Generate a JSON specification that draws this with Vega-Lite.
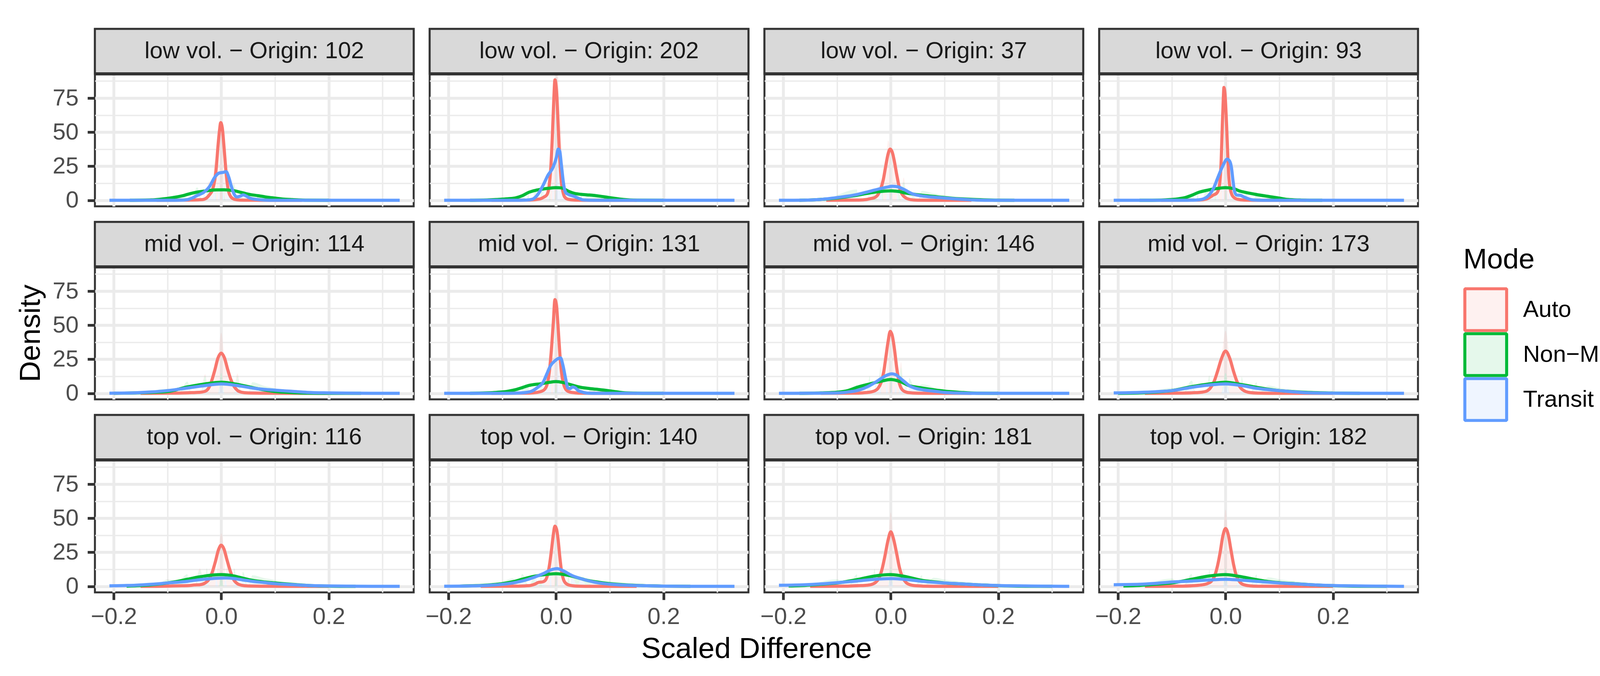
{
"$schema":"https://vega.github.io/schema/vega-lite/v6.json",
"background":"white",
"padding":{"left":38,"top":69,"right":0,"bottom":0},
"datasets":{"d":[
{"p":"102","m":"Auto","x":-0.12,"y":0},{"p":"102","m":"Auto","x":-0.06,"y":0.2},{"p":"102","m":"Auto","x":-0.035,"y":0.5},{"p":"102","m":"Auto","x":-0.028,"y":1.5},{"p":"102","m":"Auto","x":-0.022,"y":4},{"p":"102","m":"Auto","x":-0.016,"y":8},{"p":"102","m":"Auto","x":-0.012,"y":15},{"p":"102","m":"Auto","x":-0.009,"y":25},{"p":"102","m":"Auto","x":-0.006,"y":40},{"p":"102","m":"Auto","x":-0.003,"y":52},{"p":"102","m":"Auto","x":-0.001,"y":57},{"p":"102","m":"Auto","x":0.002,"y":53},{"p":"102","m":"Auto","x":0.005,"y":40},{"p":"102","m":"Auto","x":0.008,"y":25},{"p":"102","m":"Auto","x":0.011,"y":13},{"p":"102","m":"Auto","x":0.014,"y":6},{"p":"102","m":"Auto","x":0.018,"y":2.5},{"p":"102","m":"Auto","x":0.024,"y":0.8},{"p":"102","m":"Auto","x":0.035,"y":0.2},{"p":"102","m":"Auto","x":0.06,"y":0.1},{"p":"102","m":"Auto","x":0.1,"y":0},{"p":"102","m":"Auto","x":0.15,"y":0},
{"p":"102","m":"Non−Motorized","x":-0.17,"y":0},{"p":"102","m":"Non−Motorized","x":-0.13,"y":0.3},{"p":"102","m":"Non−Motorized","x":-0.116,"y":0.7},{"p":"102","m":"Non−Motorized","x":-0.09,"y":2},{"p":"102","m":"Non−Motorized","x":-0.07,"y":3.5},{"p":"102","m":"Non−Motorized","x":-0.058,"y":4.9},{"p":"102","m":"Non−Motorized","x":-0.045,"y":6},{"p":"102","m":"Non−Motorized","x":-0.027,"y":7},{"p":"102","m":"Non−Motorized","x":-0.01,"y":7.6},{"p":"102","m":"Non−Motorized","x":0.005,"y":7.7},{"p":"102","m":"Non−Motorized","x":0.024,"y":7},{"p":"102","m":"Non−Motorized","x":0.04,"y":5.5},{"p":"102","m":"Non−Motorized","x":0.053,"y":4.3},{"p":"102","m":"Non−Motorized","x":0.068,"y":3.4},{"p":"102","m":"Non−Motorized","x":0.082,"y":2.5},{"p":"102","m":"Non−Motorized","x":0.1,"y":1.6},{"p":"102","m":"Non−Motorized","x":0.115,"y":0.9},{"p":"102","m":"Non−Motorized","x":0.133,"y":0.5},{"p":"102","m":"Non−Motorized","x":0.16,"y":0.1},{"p":"102","m":"Non−Motorized","x":0.2,"y":0},
{"p":"102","m":"Transit","x":-0.208,"y":0},{"p":"102","m":"Transit","x":-0.1,"y":0},{"p":"102","m":"Transit","x":-0.07,"y":0.2},{"p":"102","m":"Transit","x":-0.055,"y":1.5},{"p":"102","m":"Transit","x":-0.045,"y":3.5},{"p":"102","m":"Transit","x":-0.032,"y":6},{"p":"102","m":"Transit","x":-0.022,"y":10},{"p":"102","m":"Transit","x":-0.012,"y":17},{"p":"102","m":"Transit","x":-0.004,"y":20},{"p":"102","m":"Transit","x":0.004,"y":20.5},{"p":"102","m":"Transit","x":0.009,"y":21},{"p":"102","m":"Transit","x":0.014,"y":17},{"p":"102","m":"Transit","x":0.019,"y":10},{"p":"102","m":"Transit","x":0.024,"y":4.5},{"p":"102","m":"Transit","x":0.029,"y":2.5},{"p":"102","m":"Transit","x":0.035,"y":3},{"p":"102","m":"Transit","x":0.041,"y":4},{"p":"102","m":"Transit","x":0.047,"y":3},{"p":"102","m":"Transit","x":0.054,"y":1.5},{"p":"102","m":"Transit","x":0.065,"y":0.7},{"p":"102","m":"Transit","x":0.08,"y":0.2},{"p":"102","m":"Transit","x":0.1,"y":0},{"p":"102","m":"Transit","x":0.332,"y":0},

{"p":"202","m":"Auto","x":-0.12,"y":0},{"p":"202","m":"Auto","x":-0.05,"y":0.2},{"p":"202","m":"Auto","x":-0.03,"y":1},{"p":"202","m":"Auto","x":-0.022,"y":2.5},{"p":"202","m":"Auto","x":-0.017,"y":4},{"p":"202","m":"Auto","x":-0.013,"y":10},{"p":"202","m":"Auto","x":-0.01,"y":22},{"p":"202","m":"Auto","x":-0.007,"y":45},{"p":"202","m":"Auto","x":-0.004,"y":75},{"p":"202","m":"Auto","x":-0.002,"y":88.4},{"p":"202","m":"Auto","x":0.001,"y":80},{"p":"202","m":"Auto","x":0.004,"y":55},{"p":"202","m":"Auto","x":0.007,"y":30},{"p":"202","m":"Auto","x":0.01,"y":13},{"p":"202","m":"Auto","x":0.013,"y":6},{"p":"202","m":"Auto","x":0.016,"y":2.5},{"p":"202","m":"Auto","x":0.022,"y":0.8},{"p":"202","m":"Auto","x":0.035,"y":0.2},{"p":"202","m":"Auto","x":0.07,"y":0},{"p":"202","m":"Auto","x":0.15,"y":0},
{"p":"202","m":"Non−Motorized","x":-0.16,"y":0},{"p":"202","m":"Non−Motorized","x":-0.125,"y":0.3},{"p":"202","m":"Non−Motorized","x":-0.109,"y":0.6},{"p":"202","m":"Non−Motorized","x":-0.09,"y":1.1},{"p":"202","m":"Non−Motorized","x":-0.075,"y":1.8},{"p":"202","m":"Non−Motorized","x":-0.062,"y":3.5},{"p":"202","m":"Non−Motorized","x":-0.051,"y":5.8},{"p":"202","m":"Non−Motorized","x":-0.038,"y":7.3},{"p":"202","m":"Non−Motorized","x":-0.027,"y":8.1},{"p":"202","m":"Non−Motorized","x":-0.012,"y":8.9},{"p":"202","m":"Non−Motorized","x":0,"y":9.3},{"p":"202","m":"Non−Motorized","x":0.01,"y":9.1},{"p":"202","m":"Non−Motorized","x":0.024,"y":6.5},{"p":"202","m":"Non−Motorized","x":0.035,"y":5},{"p":"202","m":"Non−Motorized","x":0.046,"y":4.4},{"p":"202","m":"Non−Motorized","x":0.058,"y":4},{"p":"202","m":"Non−Motorized","x":0.07,"y":3.6},{"p":"202","m":"Non−Motorized","x":0.082,"y":3},{"p":"202","m":"Non−Motorized","x":0.094,"y":2.3},{"p":"202","m":"Non−Motorized","x":0.106,"y":1.6},{"p":"202","m":"Non−Motorized","x":0.126,"y":0.6},{"p":"202","m":"Non−Motorized","x":0.15,"y":0.1},{"p":"202","m":"Non−Motorized","x":0.2,"y":0},
{"p":"202","m":"Transit","x":-0.208,"y":0},{"p":"202","m":"Transit","x":-0.08,"y":0},{"p":"202","m":"Transit","x":-0.055,"y":0.2},{"p":"202","m":"Transit","x":-0.044,"y":0.8},{"p":"202","m":"Transit","x":-0.034,"y":4.2},{"p":"202","m":"Transit","x":-0.024,"y":11},{"p":"202","m":"Transit","x":-0.015,"y":18.4},{"p":"202","m":"Transit","x":-0.005,"y":24.6},{"p":"202","m":"Transit","x":0.001,"y":32},{"p":"202","m":"Transit","x":0.004,"y":37.6},{"p":"202","m":"Transit","x":0.007,"y":36},{"p":"202","m":"Transit","x":0.01,"y":26},{"p":"202","m":"Transit","x":0.0145,"y":11},{"p":"202","m":"Transit","x":0.018,"y":5.7},{"p":"202","m":"Transit","x":0.022,"y":4.5},{"p":"202","m":"Transit","x":0.027,"y":3.7},{"p":"202","m":"Transit","x":0.033,"y":3},{"p":"202","m":"Transit","x":0.039,"y":2},{"p":"202","m":"Transit","x":0.045,"y":1},{"p":"202","m":"Transit","x":0.051,"y":0.3},{"p":"202","m":"Transit","x":0.07,"y":0},{"p":"202","m":"Transit","x":0.332,"y":0},

{"p":"37","m":"Auto","x":-0.12,"y":0},{"p":"37","m":"Auto","x":-0.06,"y":0.2},{"p":"37","m":"Auto","x":-0.045,"y":0.6},{"p":"37","m":"Auto","x":-0.038,"y":1.2},{"p":"37","m":"Auto","x":-0.03,"y":2},{"p":"37","m":"Auto","x":-0.024,"y":4},{"p":"37","m":"Auto","x":-0.019,"y":8},{"p":"37","m":"Auto","x":-0.014,"y":15},{"p":"37","m":"Auto","x":-0.009,"y":26},{"p":"37","m":"Auto","x":-0.005,"y":34},{"p":"37","m":"Auto","x":-0.001,"y":37.6},{"p":"37","m":"Auto","x":0.003,"y":35},{"p":"37","m":"Auto","x":0.007,"y":28},{"p":"37","m":"Auto","x":0.011,"y":19},{"p":"37","m":"Auto","x":0.015,"y":11},{"p":"37","m":"Auto","x":0.019,"y":6},{"p":"37","m":"Auto","x":0.024,"y":3},{"p":"37","m":"Auto","x":0.03,"y":1.3},{"p":"37","m":"Auto","x":0.037,"y":0.5},{"p":"37","m":"Auto","x":0.05,"y":0.1},{"p":"37","m":"Auto","x":0.08,"y":0},{"p":"37","m":"Auto","x":0.15,"y":0},
{"p":"37","m":"Non−Motorized","x":-0.17,"y":0},{"p":"37","m":"Non−Motorized","x":-0.135,"y":0.5},{"p":"37","m":"Non−Motorized","x":-0.1,"y":1.7},{"p":"37","m":"Non−Motorized","x":-0.063,"y":3.7},{"p":"37","m":"Non−Motorized","x":-0.03,"y":6},{"p":"37","m":"Non−Motorized","x":-0.015,"y":6.6},{"p":"37","m":"Non−Motorized","x":0,"y":6.9},{"p":"37","m":"Non−Motorized","x":0.015,"y":6.5},{"p":"37","m":"Non−Motorized","x":0.024,"y":5.6},{"p":"37","m":"Non−Motorized","x":0.04,"y":4.6},{"p":"37","m":"Non−Motorized","x":0.058,"y":3.7},{"p":"37","m":"Non−Motorized","x":0.08,"y":2.8},{"p":"37","m":"Non−Motorized","x":0.1,"y":2},{"p":"37","m":"Non−Motorized","x":0.13,"y":1.1},{"p":"37","m":"Non−Motorized","x":0.16,"y":0.5},{"p":"37","m":"Non−Motorized","x":0.2,"y":0.1},{"p":"37","m":"Non−Motorized","x":0.23,"y":0},
{"p":"37","m":"Transit","x":-0.208,"y":0},{"p":"37","m":"Transit","x":-0.16,"y":0.1},{"p":"37","m":"Transit","x":-0.135,"y":0.5},{"p":"37","m":"Transit","x":-0.1,"y":2},{"p":"37","m":"Transit","x":-0.063,"y":4.2},{"p":"37","m":"Transit","x":-0.039,"y":6.6},{"p":"37","m":"Transit","x":-0.019,"y":8.6},{"p":"37","m":"Transit","x":-0.005,"y":9.8},{"p":"37","m":"Transit","x":0.002,"y":10.3},{"p":"37","m":"Transit","x":0.012,"y":10},{"p":"37","m":"Transit","x":0.024,"y":8.1},{"p":"37","m":"Transit","x":0.039,"y":4.9},{"p":"37","m":"Transit","x":0.058,"y":3.2},{"p":"37","m":"Transit","x":0.08,"y":2.3},{"p":"37","m":"Transit","x":0.1,"y":1.7},{"p":"37","m":"Transit","x":0.13,"y":0.8},{"p":"37","m":"Transit","x":0.16,"y":0.2},{"p":"37","m":"Transit","x":0.2,"y":0},{"p":"37","m":"Transit","x":0.332,"y":0},

{"p":"93","m":"Auto","x":-0.12,"y":0},{"p":"93","m":"Auto","x":-0.05,"y":0.2},{"p":"93","m":"Auto","x":-0.035,"y":1},{"p":"93","m":"Auto","x":-0.028,"y":2.5},{"p":"93","m":"Auto","x":-0.022,"y":4},{"p":"93","m":"Auto","x":-0.017,"y":5},{"p":"93","m":"Auto","x":-0.013,"y":8},{"p":"93","m":"Auto","x":-0.01,"y":16},{"p":"93","m":"Auto","x":-0.008,"y":30},{"p":"93","m":"Auto","x":-0.006,"y":55},{"p":"93","m":"Auto","x":-0.004,"y":76},{"p":"93","m":"Auto","x":-0.003,"y":82.8},{"p":"93","m":"Auto","x":-0.001,"y":78},{"p":"93","m":"Auto","x":0.002,"y":55},{"p":"93","m":"Auto","x":0.004,"y":35},{"p":"93","m":"Auto","x":0.006,"y":18},{"p":"93","m":"Auto","x":0.009,"y":8},{"p":"93","m":"Auto","x":0.012,"y":4},{"p":"93","m":"Auto","x":0.016,"y":2},{"p":"93","m":"Auto","x":0.022,"y":0.8},{"p":"93","m":"Auto","x":0.035,"y":0.2},{"p":"93","m":"Auto","x":0.07,"y":0},{"p":"93","m":"Auto","x":0.15,"y":0},
{"p":"93","m":"Non−Motorized","x":-0.16,"y":0},{"p":"93","m":"Non−Motorized","x":-0.12,"y":0.2},{"p":"93","m":"Non−Motorized","x":-0.104,"y":0.5},{"p":"93","m":"Non−Motorized","x":-0.09,"y":1},{"p":"93","m":"Non−Motorized","x":-0.075,"y":2},{"p":"93","m":"Non−Motorized","x":-0.062,"y":3.8},{"p":"93","m":"Non−Motorized","x":-0.051,"y":5.7},{"p":"93","m":"Non−Motorized","x":-0.035,"y":7.3},{"p":"93","m":"Non−Motorized","x":-0.02,"y":8.4},{"p":"93","m":"Non−Motorized","x":0,"y":9.3},{"p":"93","m":"Non−Motorized","x":0.015,"y":8.6},{"p":"93","m":"Non−Motorized","x":0.025,"y":7},{"p":"93","m":"Non−Motorized","x":0.038,"y":5.7},{"p":"93","m":"Non−Motorized","x":0.058,"y":4.2},{"p":"93","m":"Non−Motorized","x":0.082,"y":2.7},{"p":"93","m":"Non−Motorized","x":0.1,"y":1.6},{"p":"93","m":"Non−Motorized","x":0.114,"y":0.7},{"p":"93","m":"Non−Motorized","x":0.14,"y":0.2},{"p":"93","m":"Non−Motorized","x":0.18,"y":0},
{"p":"93","m":"Transit","x":-0.208,"y":0},{"p":"93","m":"Transit","x":-0.08,"y":0},{"p":"93","m":"Transit","x":-0.055,"y":0.2},{"p":"93","m":"Transit","x":-0.044,"y":0.7},{"p":"93","m":"Transit","x":-0.031,"y":3.7},{"p":"93","m":"Transit","x":-0.022,"y":9},{"p":"93","m":"Transit","x":-0.015,"y":16},{"p":"93","m":"Transit","x":-0.005,"y":25.3},{"p":"93","m":"Transit","x":0.003,"y":30.2},{"p":"93","m":"Transit","x":0.008,"y":28.5},{"p":"93","m":"Transit","x":0.011,"y":24},{"p":"93","m":"Transit","x":0.014,"y":14},{"p":"93","m":"Transit","x":0.017,"y":6.1},{"p":"93","m":"Transit","x":0.021,"y":3.8},{"p":"93","m":"Transit","x":0.027,"y":3.7},{"p":"93","m":"Transit","x":0.034,"y":2.5},{"p":"93","m":"Transit","x":0.042,"y":1.2},{"p":"93","m":"Transit","x":0.051,"y":0.3},{"p":"93","m":"Transit","x":0.07,"y":0},{"p":"93","m":"Transit","x":0.332,"y":0},

{"p":"114","m":"Auto","x":-0.15,"y":0},{"p":"114","m":"Auto","x":-0.08,"y":0.2},{"p":"114","m":"Auto","x":-0.055,"y":0.5},{"p":"114","m":"Auto","x":-0.039,"y":0.8},{"p":"114","m":"Auto","x":-0.03,"y":1.5},{"p":"114","m":"Auto","x":-0.024,"y":3.5},{"p":"114","m":"Auto","x":-0.018,"y":9},{"p":"114","m":"Auto","x":-0.012,"y":17},{"p":"114","m":"Auto","x":-0.006,"y":26},{"p":"114","m":"Auto","x":0,"y":29.5},{"p":"114","m":"Auto","x":0.006,"y":26},{"p":"114","m":"Auto","x":0.012,"y":17.5},{"p":"114","m":"Auto","x":0.018,"y":10},{"p":"114","m":"Auto","x":0.024,"y":5},{"p":"114","m":"Auto","x":0.03,"y":2.2},{"p":"114","m":"Auto","x":0.038,"y":0.8},{"p":"114","m":"Auto","x":0.05,"y":0.3},{"p":"114","m":"Auto","x":0.08,"y":0.1},{"p":"114","m":"Auto","x":0.12,"y":0},{"p":"114","m":"Auto","x":0.2,"y":0},
{"p":"114","m":"Non−Motorized","x":-0.2,"y":0},{"p":"114","m":"Non−Motorized","x":-0.16,"y":0.3},{"p":"114","m":"Non−Motorized","x":-0.13,"y":0.7},{"p":"114","m":"Non−Motorized","x":-0.1,"y":1.3},{"p":"114","m":"Non−Motorized","x":-0.063,"y":4.7},{"p":"114","m":"Non−Motorized","x":-0.03,"y":6.9},{"p":"114","m":"Non−Motorized","x":0,"y":8.1},{"p":"114","m":"Non−Motorized","x":0.03,"y":6.6},{"p":"114","m":"Non−Motorized","x":0.058,"y":4.2},{"p":"114","m":"Non−Motorized","x":0.08,"y":2.5},{"p":"114","m":"Non−Motorized","x":0.1,"y":1.3},{"p":"114","m":"Non−Motorized","x":0.13,"y":0.6},{"p":"114","m":"Non−Motorized","x":0.16,"y":0.2},{"p":"114","m":"Non−Motorized","x":0.2,"y":0},{"p":"114","m":"Non−Motorized","x":0.26,"y":0},
{"p":"114","m":"Transit","x":-0.208,"y":0.1},{"p":"114","m":"Transit","x":-0.16,"y":0.4},{"p":"114","m":"Transit","x":-0.13,"y":1},{"p":"114","m":"Transit","x":-0.1,"y":2},{"p":"114","m":"Transit","x":-0.063,"y":3.9},{"p":"114","m":"Transit","x":-0.03,"y":5.7},{"p":"114","m":"Transit","x":0,"y":6.9},{"p":"114","m":"Transit","x":0.03,"y":5.7},{"p":"114","m":"Transit","x":0.058,"y":3.9},{"p":"114","m":"Transit","x":0.08,"y":2.9},{"p":"114","m":"Transit","x":0.1,"y":2.3},{"p":"114","m":"Transit","x":0.13,"y":1.5},{"p":"114","m":"Transit","x":0.16,"y":0.7},{"p":"114","m":"Transit","x":0.2,"y":0.3},{"p":"114","m":"Transit","x":0.25,"y":0.1},{"p":"114","m":"Transit","x":0.332,"y":0},

{"p":"131","m":"Auto","x":-0.12,"y":0},{"p":"131","m":"Auto","x":-0.05,"y":0.2},{"p":"131","m":"Auto","x":-0.035,"y":0.7},{"p":"131","m":"Auto","x":-0.027,"y":1.5},{"p":"131","m":"Auto","x":-0.021,"y":3},{"p":"131","m":"Auto","x":-0.017,"y":6},{"p":"131","m":"Auto","x":-0.013,"y":14},{"p":"131","m":"Auto","x":-0.009,"y":30},{"p":"131","m":"Auto","x":-0.005,"y":52},{"p":"131","m":"Auto","x":-0.002,"y":68.8},{"p":"131","m":"Auto","x":0.001,"y":64},{"p":"131","m":"Auto","x":0.004,"y":48},{"p":"131","m":"Auto","x":0.007,"y":30},{"p":"131","m":"Auto","x":0.01,"y":16},{"p":"131","m":"Auto","x":0.014,"y":7},{"p":"131","m":"Auto","x":0.018,"y":3},{"p":"131","m":"Auto","x":0.024,"y":1.2},{"p":"131","m":"Auto","x":0.035,"y":0.4},{"p":"131","m":"Auto","x":0.05,"y":0.1},{"p":"131","m":"Auto","x":0.09,"y":0},{"p":"131","m":"Auto","x":0.15,"y":0},
{"p":"131","m":"Non−Motorized","x":-0.16,"y":0},{"p":"131","m":"Non−Motorized","x":-0.13,"y":0.3},{"p":"131","m":"Non−Motorized","x":-0.111,"y":0.7},{"p":"131","m":"Non−Motorized","x":-0.09,"y":1.5},{"p":"131","m":"Non−Motorized","x":-0.075,"y":2.7},{"p":"131","m":"Non−Motorized","x":-0.062,"y":4.3},{"p":"131","m":"Non−Motorized","x":-0.051,"y":5.7},{"p":"131","m":"Non−Motorized","x":-0.027,"y":7.1},{"p":"131","m":"Non−Motorized","x":-0.01,"y":8.2},{"p":"131","m":"Non−Motorized","x":0,"y":8.6},{"p":"131","m":"Non−Motorized","x":0.012,"y":8},{"p":"131","m":"Non−Motorized","x":0.025,"y":6.6},{"p":"131","m":"Non−Motorized","x":0.046,"y":4.4},{"p":"131","m":"Non−Motorized","x":0.065,"y":3.4},{"p":"131","m":"Non−Motorized","x":0.082,"y":2.7},{"p":"131","m":"Non−Motorized","x":0.106,"y":1.5},{"p":"131","m":"Non−Motorized","x":0.13,"y":0.3},{"p":"131","m":"Non−Motorized","x":0.16,"y":0.05},{"p":"131","m":"Non−Motorized","x":0.2,"y":0},
{"p":"131","m":"Transit","x":-0.208,"y":0},{"p":"131","m":"Transit","x":-0.09,"y":0},{"p":"131","m":"Transit","x":-0.065,"y":0.3},{"p":"131","m":"Transit","x":-0.048,"y":1.2},{"p":"131","m":"Transit","x":-0.034,"y":4.4},{"p":"131","m":"Transit","x":-0.024,"y":8.1},{"p":"131","m":"Transit","x":-0.017,"y":14.3},{"p":"131","m":"Transit","x":-0.01,"y":20.4},{"p":"131","m":"Transit","x":-0.003,"y":23.5},{"p":"131","m":"Transit","x":0.004,"y":25.5},{"p":"131","m":"Transit","x":0.0085,"y":26},{"p":"131","m":"Transit","x":0.013,"y":20.4},{"p":"131","m":"Transit","x":0.018,"y":10.6},{"p":"131","m":"Transit","x":0.022,"y":4},{"p":"131","m":"Transit","x":0.026,"y":3.5},{"p":"131","m":"Transit","x":0.031,"y":4.7},{"p":"131","m":"Transit","x":0.036,"y":4},{"p":"131","m":"Transit","x":0.041,"y":2.2},{"p":"131","m":"Transit","x":0.05,"y":0.8},{"p":"131","m":"Transit","x":0.058,"y":0.2},{"p":"131","m":"Transit","x":0.08,"y":0},{"p":"131","m":"Transit","x":0.332,"y":0},

{"p":"146","m":"Auto","x":-0.13,"y":0},{"p":"146","m":"Auto","x":-0.06,"y":0.2},{"p":"146","m":"Auto","x":-0.045,"y":0.6},{"p":"146","m":"Auto","x":-0.037,"y":1},{"p":"146","m":"Auto","x":-0.03,"y":1.8},{"p":"146","m":"Auto","x":-0.024,"y":3.5},{"p":"146","m":"Auto","x":-0.018,"y":8},{"p":"146","m":"Auto","x":-0.013,"y":16},{"p":"146","m":"Auto","x":-0.009,"y":27},{"p":"146","m":"Auto","x":-0.005,"y":38},{"p":"146","m":"Auto","x":-0.001,"y":45.5},{"p":"146","m":"Auto","x":0.003,"y":42},{"p":"146","m":"Auto","x":0.007,"y":32},{"p":"146","m":"Auto","x":0.011,"y":19},{"p":"146","m":"Auto","x":0.015,"y":9},{"p":"146","m":"Auto","x":0.019,"y":4},{"p":"146","m":"Auto","x":0.025,"y":1.5},{"p":"146","m":"Auto","x":0.033,"y":0.5},{"p":"146","m":"Auto","x":0.05,"y":0.1},{"p":"146","m":"Auto","x":0.09,"y":0},{"p":"146","m":"Auto","x":0.15,"y":0},
{"p":"146","m":"Non−Motorized","x":-0.17,"y":0},{"p":"146","m":"Non−Motorized","x":-0.13,"y":0.3},{"p":"146","m":"Non−Motorized","x":-0.1,"y":0.8},{"p":"146","m":"Non−Motorized","x":-0.08,"y":2},{"p":"146","m":"Non−Motorized","x":-0.063,"y":4.4},{"p":"146","m":"Non−Motorized","x":-0.039,"y":6.9},{"p":"146","m":"Non−Motorized","x":-0.019,"y":8.8},{"p":"146","m":"Non−Motorized","x":0,"y":10.1},{"p":"146","m":"Non−Motorized","x":0.019,"y":8.4},{"p":"146","m":"Non−Motorized","x":0.034,"y":5.6},{"p":"146","m":"Non−Motorized","x":0.05,"y":4.4},{"p":"146","m":"Non−Motorized","x":0.058,"y":3.9},{"p":"146","m":"Non−Motorized","x":0.08,"y":2.6},{"p":"146","m":"Non−Motorized","x":0.1,"y":1.6},{"p":"146","m":"Non−Motorized","x":0.13,"y":0.7},{"p":"146","m":"Non−Motorized","x":0.16,"y":0.1},{"p":"146","m":"Non−Motorized","x":0.2,"y":0},
{"p":"146","m":"Transit","x":-0.208,"y":0},{"p":"146","m":"Transit","x":-0.15,"y":0.1},{"p":"146","m":"Transit","x":-0.1,"y":0.3},{"p":"146","m":"Transit","x":-0.075,"y":1.2},{"p":"146","m":"Transit","x":-0.063,"y":2},{"p":"146","m":"Transit","x":-0.05,"y":3.7},{"p":"146","m":"Transit","x":-0.039,"y":5.7},{"p":"146","m":"Transit","x":-0.029,"y":8},{"p":"146","m":"Transit","x":-0.019,"y":10.6},{"p":"146","m":"Transit","x":-0.008,"y":13.2},{"p":"146","m":"Transit","x":0.002,"y":14.3},{"p":"146","m":"Transit","x":0.01,"y":13.5},{"p":"146","m":"Transit","x":0.019,"y":10.6},{"p":"146","m":"Transit","x":0.027,"y":8},{"p":"146","m":"Transit","x":0.034,"y":5.7},{"p":"146","m":"Transit","x":0.045,"y":3.8},{"p":"146","m":"Transit","x":0.058,"y":2.7},{"p":"146","m":"Transit","x":0.08,"y":1.6},{"p":"146","m":"Transit","x":0.1,"y":0.7},{"p":"146","m":"Transit","x":0.13,"y":0.2},{"p":"146","m":"Transit","x":0.16,"y":0},{"p":"146","m":"Transit","x":0.332,"y":0},

{"p":"173","m":"Auto","x":-0.15,"y":0},{"p":"173","m":"Auto","x":-0.08,"y":0.2},{"p":"173","m":"Auto","x":-0.055,"y":0.5},{"p":"173","m":"Auto","x":-0.045,"y":0.8},{"p":"173","m":"Auto","x":-0.036,"y":1.5},{"p":"173","m":"Auto","x":-0.028,"y":4},{"p":"173","m":"Auto","x":-0.021,"y":9},{"p":"173","m":"Auto","x":-0.015,"y":16},{"p":"173","m":"Auto","x":-0.008,"y":25},{"p":"173","m":"Auto","x":0,"y":31},{"p":"173","m":"Auto","x":0.008,"y":25.5},{"p":"173","m":"Auto","x":0.015,"y":16},{"p":"173","m":"Auto","x":0.021,"y":9},{"p":"173","m":"Auto","x":0.028,"y":4},{"p":"173","m":"Auto","x":0.036,"y":1.6},{"p":"173","m":"Auto","x":0.045,"y":0.6},{"p":"173","m":"Auto","x":0.06,"y":0.2},{"p":"173","m":"Auto","x":0.1,"y":0},{"p":"173","m":"Auto","x":0.2,"y":0},
{"p":"173","m":"Non−Motorized","x":-0.2,"y":0},{"p":"173","m":"Non−Motorized","x":-0.16,"y":0.3},{"p":"173","m":"Non−Motorized","x":-0.13,"y":0.9},{"p":"173","m":"Non−Motorized","x":-0.1,"y":2},{"p":"173","m":"Non−Motorized","x":-0.063,"y":4.9},{"p":"173","m":"Non−Motorized","x":-0.03,"y":6.9},{"p":"173","m":"Non−Motorized","x":0,"y":8.1},{"p":"173","m":"Non−Motorized","x":0.03,"y":6.4},{"p":"173","m":"Non−Motorized","x":0.058,"y":4.4},{"p":"173","m":"Non−Motorized","x":0.08,"y":3},{"p":"173","m":"Non−Motorized","x":0.1,"y":2},{"p":"173","m":"Non−Motorized","x":0.13,"y":1.2},{"p":"173","m":"Non−Motorized","x":0.16,"y":0.6},{"p":"173","m":"Non−Motorized","x":0.2,"y":0.2},{"p":"173","m":"Non−Motorized","x":0.25,"y":0},
{"p":"173","m":"Transit","x":-0.208,"y":0.3},{"p":"173","m":"Transit","x":-0.16,"y":0.7},{"p":"173","m":"Transit","x":-0.13,"y":1.2},{"p":"173","m":"Transit","x":-0.1,"y":2},{"p":"173","m":"Transit","x":-0.063,"y":4.4},{"p":"173","m":"Transit","x":-0.03,"y":6.1},{"p":"173","m":"Transit","x":0,"y":6.9},{"p":"173","m":"Transit","x":0.03,"y":5.7},{"p":"173","m":"Transit","x":0.058,"y":3.7},{"p":"173","m":"Transit","x":0.08,"y":2.7},{"p":"173","m":"Transit","x":0.1,"y":2},{"p":"173","m":"Transit","x":0.13,"y":1},{"p":"173","m":"Transit","x":0.16,"y":0.3},{"p":"173","m":"Transit","x":0.2,"y":0.1},{"p":"173","m":"Transit","x":0.332,"y":0},

{"p":"116","m":"Auto","x":-0.15,"y":0},{"p":"116","m":"Auto","x":-0.1,"y":0.2},{"p":"116","m":"Auto","x":-0.08,"y":0.4},{"p":"116","m":"Auto","x":-0.06,"y":0.6},{"p":"116","m":"Auto","x":-0.05,"y":1},{"p":"116","m":"Auto","x":-0.04,"y":1.2},{"p":"116","m":"Auto","x":-0.03,"y":2.5},{"p":"116","m":"Auto","x":-0.023,"y":5},{"p":"116","m":"Auto","x":-0.017,"y":10},{"p":"116","m":"Auto","x":-0.011,"y":18},{"p":"116","m":"Auto","x":-0.005,"y":27},{"p":"116","m":"Auto","x":0,"y":30.2},{"p":"116","m":"Auto","x":0.005,"y":27.5},{"p":"116","m":"Auto","x":0.011,"y":19},{"p":"116","m":"Auto","x":0.017,"y":11},{"p":"116","m":"Auto","x":0.023,"y":5},{"p":"116","m":"Auto","x":0.03,"y":2},{"p":"116","m":"Auto","x":0.038,"y":0.8},{"p":"116","m":"Auto","x":0.05,"y":0.3},{"p":"116","m":"Auto","x":0.08,"y":0.1},{"p":"116","m":"Auto","x":0.12,"y":0},{"p":"116","m":"Auto","x":0.2,"y":0},
{"p":"116","m":"Non−Motorized","x":-0.176,"y":0.2},{"p":"116","m":"Non−Motorized","x":-0.15,"y":0.6},{"p":"116","m":"Non−Motorized","x":-0.12,"y":1.5},{"p":"116","m":"Non−Motorized","x":-0.1,"y":2.5},{"p":"116","m":"Non−Motorized","x":-0.08,"y":3.8},{"p":"116","m":"Non−Motorized","x":-0.063,"y":5.2},{"p":"116","m":"Non−Motorized","x":-0.04,"y":7},{"p":"116","m":"Non−Motorized","x":-0.027,"y":7.8},{"p":"116","m":"Non−Motorized","x":0,"y":8.6},{"p":"116","m":"Non−Motorized","x":0.024,"y":7.6},{"p":"116","m":"Non−Motorized","x":0.04,"y":6},{"p":"116","m":"Non−Motorized","x":0.058,"y":4.4},{"p":"116","m":"Non−Motorized","x":0.08,"y":3.2},{"p":"116","m":"Non−Motorized","x":0.1,"y":2.5},{"p":"116","m":"Non−Motorized","x":0.13,"y":1.5},{"p":"116","m":"Non−Motorized","x":0.16,"y":0.7},{"p":"116","m":"Non−Motorized","x":0.2,"y":0.2},{"p":"116","m":"Non−Motorized","x":0.25,"y":0},
{"p":"116","m":"Transit","x":-0.208,"y":0.4},{"p":"116","m":"Transit","x":-0.18,"y":0.6},{"p":"116","m":"Transit","x":-0.16,"y":0.8},{"p":"116","m":"Transit","x":-0.13,"y":1.5},{"p":"116","m":"Transit","x":-0.1,"y":2.5},{"p":"116","m":"Transit","x":-0.063,"y":3.7},{"p":"116","m":"Transit","x":-0.04,"y":4.9},{"p":"116","m":"Transit","x":-0.027,"y":5.4},{"p":"116","m":"Transit","x":-0.01,"y":5.9},{"p":"116","m":"Transit","x":0.008,"y":6.1},{"p":"116","m":"Transit","x":0.024,"y":5.7},{"p":"116","m":"Transit","x":0.04,"y":4.7},{"p":"116","m":"Transit","x":0.058,"y":3.7},{"p":"116","m":"Transit","x":0.08,"y":2.8},{"p":"116","m":"Transit","x":0.1,"y":2},{"p":"116","m":"Transit","x":0.13,"y":1.3},{"p":"116","m":"Transit","x":0.16,"y":0.7},{"p":"116","m":"Transit","x":0.2,"y":0.3},{"p":"116","m":"Transit","x":0.25,"y":0.1},{"p":"116","m":"Transit","x":0.332,"y":0},

{"p":"140","m":"Auto","x":-0.14,"y":0},{"p":"140","m":"Auto","x":-0.07,"y":0.2},{"p":"140","m":"Auto","x":-0.05,"y":0.5},{"p":"140","m":"Auto","x":-0.04,"y":1.5},{"p":"140","m":"Auto","x":-0.032,"y":3},{"p":"140","m":"Auto","x":-0.026,"y":3.2},{"p":"140","m":"Auto","x":-0.021,"y":4},{"p":"140","m":"Auto","x":-0.016,"y":8},{"p":"140","m":"Auto","x":-0.012,"y":16},{"p":"140","m":"Auto","x":-0.008,"y":28},{"p":"140","m":"Auto","x":-0.005,"y":38},{"p":"140","m":"Auto","x":-0.002,"y":44.2},{"p":"140","m":"Auto","x":0.001,"y":42},{"p":"140","m":"Auto","x":0.004,"y":34},{"p":"140","m":"Auto","x":0.007,"y":22},{"p":"140","m":"Auto","x":0.01,"y":12},{"p":"140","m":"Auto","x":0.014,"y":5},{"p":"140","m":"Auto","x":0.019,"y":2},{"p":"140","m":"Auto","x":0.026,"y":0.8},{"p":"140","m":"Auto","x":0.04,"y":0.2},{"p":"140","m":"Auto","x":0.07,"y":0},{"p":"140","m":"Auto","x":0.15,"y":0},
{"p":"140","m":"Non−Motorized","x":-0.18,"y":0.2},{"p":"140","m":"Non−Motorized","x":-0.15,"y":0.5},{"p":"140","m":"Non−Motorized","x":-0.12,"y":1.2},{"p":"140","m":"Non−Motorized","x":-0.1,"y":2},{"p":"140","m":"Non−Motorized","x":-0.08,"y":3.4},{"p":"140","m":"Non−Motorized","x":-0.063,"y":5.2},{"p":"140","m":"Non−Motorized","x":-0.04,"y":7.4},{"p":"140","m":"Non−Motorized","x":-0.027,"y":8.3},{"p":"140","m":"Non−Motorized","x":0,"y":9.3},{"p":"140","m":"Non−Motorized","x":0.024,"y":8},{"p":"140","m":"Non−Motorized","x":0.04,"y":6.4},{"p":"140","m":"Non−Motorized","x":0.058,"y":4.4},{"p":"140","m":"Non−Motorized","x":0.08,"y":3},{"p":"140","m":"Non−Motorized","x":0.1,"y":2},{"p":"140","m":"Non−Motorized","x":0.13,"y":1.1},{"p":"140","m":"Non−Motorized","x":0.16,"y":0.6},{"p":"140","m":"Non−Motorized","x":0.2,"y":0.2},{"p":"140","m":"Non−Motorized","x":0.25,"y":0},
{"p":"140","m":"Transit","x":-0.208,"y":0.1},{"p":"140","m":"Transit","x":-0.16,"y":0.3},{"p":"140","m":"Transit","x":-0.12,"y":0.9},{"p":"140","m":"Transit","x":-0.1,"y":1.5},{"p":"140","m":"Transit","x":-0.08,"y":2.5},{"p":"140","m":"Transit","x":-0.063,"y":3.9},{"p":"140","m":"Transit","x":-0.039,"y":6.9},{"p":"140","m":"Transit","x":-0.024,"y":9.3},{"p":"140","m":"Transit","x":-0.01,"y":12},{"p":"140","m":"Transit","x":0.002,"y":13},{"p":"140","m":"Transit","x":0.013,"y":11.5},{"p":"140","m":"Transit","x":0.029,"y":8.1},{"p":"140","m":"Transit","x":0.046,"y":5.7},{"p":"140","m":"Transit","x":0.07,"y":3.2},{"p":"140","m":"Transit","x":0.1,"y":1.6},{"p":"140","m":"Transit","x":0.13,"y":0.9},{"p":"140","m":"Transit","x":0.16,"y":0.5},{"p":"140","m":"Transit","x":0.2,"y":0.2},{"p":"140","m":"Transit","x":0.25,"y":0.05},{"p":"140","m":"Transit","x":0.332,"y":0},

{"p":"181","m":"Auto","x":-0.15,"y":0},{"p":"181","m":"Auto","x":-0.08,"y":0.2},{"p":"181","m":"Auto","x":-0.06,"y":0.5},{"p":"181","m":"Auto","x":-0.045,"y":0.8},{"p":"181","m":"Auto","x":-0.035,"y":1.5},{"p":"181","m":"Auto","x":-0.028,"y":3},{"p":"181","m":"Auto","x":-0.022,"y":6},{"p":"181","m":"Auto","x":-0.016,"y":13},{"p":"181","m":"Auto","x":-0.011,"y":22},{"p":"181","m":"Auto","x":-0.005,"y":34},{"p":"181","m":"Auto","x":0,"y":40},{"p":"181","m":"Auto","x":0.005,"y":35},{"p":"181","m":"Auto","x":0.011,"y":24},{"p":"181","m":"Auto","x":0.016,"y":14},{"p":"181","m":"Auto","x":0.022,"y":6.5},{"p":"181","m":"Auto","x":0.028,"y":3},{"p":"181","m":"Auto","x":0.035,"y":1.3},{"p":"181","m":"Auto","x":0.045,"y":0.5},{"p":"181","m":"Auto","x":0.06,"y":0.2},{"p":"181","m":"Auto","x":0.1,"y":0},{"p":"181","m":"Auto","x":0.2,"y":0},
{"p":"181","m":"Non−Motorized","x":-0.19,"y":0.3},{"p":"181","m":"Non−Motorized","x":-0.16,"y":0.7},{"p":"181","m":"Non−Motorized","x":-0.13,"y":1.5},{"p":"181","m":"Non−Motorized","x":-0.1,"y":2.5},{"p":"181","m":"Non−Motorized","x":-0.063,"y":4.9},{"p":"181","m":"Non−Motorized","x":-0.03,"y":7.6},{"p":"181","m":"Non−Motorized","x":0,"y":8.6},{"p":"181","m":"Non−Motorized","x":0.024,"y":7.4},{"p":"181","m":"Non−Motorized","x":0.058,"y":4.4},{"p":"181","m":"Non−Motorized","x":0.08,"y":3.3},{"p":"181","m":"Non−Motorized","x":0.1,"y":2.5},{"p":"181","m":"Non−Motorized","x":0.13,"y":1.8},{"p":"181","m":"Non−Motorized","x":0.16,"y":1.2},{"p":"181","m":"Non−Motorized","x":0.2,"y":0.5},{"p":"181","m":"Non−Motorized","x":0.25,"y":0.1},{"p":"181","m":"Non−Motorized","x":0.3,"y":0},
{"p":"181","m":"Transit","x":-0.208,"y":0.8},{"p":"181","m":"Transit","x":-0.16,"y":1.2},{"p":"181","m":"Transit","x":-0.13,"y":1.8},{"p":"181","m":"Transit","x":-0.1,"y":2.7},{"p":"181","m":"Transit","x":-0.063,"y":3.9},{"p":"181","m":"Transit","x":-0.03,"y":5.2},{"p":"181","m":"Transit","x":0,"y":5.7},{"p":"181","m":"Transit","x":0.024,"y":5.2},{"p":"181","m":"Transit","x":0.058,"y":3.7},{"p":"181","m":"Transit","x":0.08,"y":3},{"p":"181","m":"Transit","x":0.1,"y":2.5},{"p":"181","m":"Transit","x":0.13,"y":1.8},{"p":"181","m":"Transit","x":0.16,"y":1.2},{"p":"181","m":"Transit","x":0.2,"y":0.6},{"p":"181","m":"Transit","x":0.25,"y":0.3},{"p":"181","m":"Transit","x":0.3,"y":0.1},{"p":"181","m":"Transit","x":0.332,"y":0.05},

{"p":"182","m":"Auto","x":-0.15,"y":0},{"p":"182","m":"Auto","x":-0.08,"y":0.2},{"p":"182","m":"Auto","x":-0.06,"y":0.5},{"p":"182","m":"Auto","x":-0.05,"y":0.8},{"p":"182","m":"Auto","x":-0.042,"y":1.2},{"p":"182","m":"Auto","x":-0.034,"y":2},{"p":"182","m":"Auto","x":-0.027,"y":3.5},{"p":"182","m":"Auto","x":-0.021,"y":7},{"p":"182","m":"Auto","x":-0.015,"y":15},{"p":"182","m":"Auto","x":-0.01,"y":25},{"p":"182","m":"Auto","x":-0.005,"y":37},{"p":"182","m":"Auto","x":0,"y":42.5},{"p":"182","m":"Auto","x":0.005,"y":38},{"p":"182","m":"Auto","x":0.01,"y":27},{"p":"182","m":"Auto","x":0.015,"y":16},{"p":"182","m":"Auto","x":0.02,"y":8},{"p":"182","m":"Auto","x":0.026,"y":3.5},{"p":"182","m":"Auto","x":0.033,"y":1.3},{"p":"182","m":"Auto","x":0.045,"y":0.4},{"p":"182","m":"Auto","x":0.06,"y":0.1},{"p":"182","m":"Auto","x":0.1,"y":0},{"p":"182","m":"Auto","x":0.2,"y":0},
{"p":"182","m":"Non−Motorized","x":-0.19,"y":0.3},{"p":"182","m":"Non−Motorized","x":-0.16,"y":0.7},{"p":"182","m":"Non−Motorized","x":-0.13,"y":1.5},{"p":"182","m":"Non−Motorized","x":-0.1,"y":2.5},{"p":"182","m":"Non−Motorized","x":-0.063,"y":5.2},{"p":"182","m":"Non−Motorized","x":-0.03,"y":7.6},{"p":"182","m":"Non−Motorized","x":0,"y":8.6},{"p":"182","m":"Non−Motorized","x":0.024,"y":7.4},{"p":"182","m":"Non−Motorized","x":0.058,"y":4.9},{"p":"182","m":"Non−Motorized","x":0.08,"y":3.5},{"p":"182","m":"Non−Motorized","x":0.1,"y":2.7},{"p":"182","m":"Non−Motorized","x":0.13,"y":1.9},{"p":"182","m":"Non−Motorized","x":0.16,"y":1.2},{"p":"182","m":"Non−Motorized","x":0.2,"y":0.5},{"p":"182","m":"Non−Motorized","x":0.25,"y":0.1},{"p":"182","m":"Non−Motorized","x":0.3,"y":0},
{"p":"182","m":"Transit","x":-0.208,"y":1.2},{"p":"182","m":"Transit","x":-0.16,"y":1.5},{"p":"182","m":"Transit","x":-0.13,"y":2.2},{"p":"182","m":"Transit","x":-0.1,"y":3.2},{"p":"182","m":"Transit","x":-0.063,"y":3.9},{"p":"182","m":"Transit","x":-0.03,"y":4.7},{"p":"182","m":"Transit","x":0,"y":5.2},{"p":"182","m":"Transit","x":0.024,"y":4.7},{"p":"182","m":"Transit","x":0.058,"y":3.7},{"p":"182","m":"Transit","x":0.08,"y":3.1},{"p":"182","m":"Transit","x":0.1,"y":2.5},{"p":"182","m":"Transit","x":0.13,"y":1.8},{"p":"182","m":"Transit","x":0.16,"y":1.2},{"p":"182","m":"Transit","x":0.2,"y":0.6},{"p":"182","m":"Transit","x":0.25,"y":0.3},{"p":"182","m":"Transit","x":0.3,"y":0.1},{"p":"182","m":"Transit","x":0.332,"y":0.05}
]},
"columns":4,
"spacing":{"row":40,"column":41},
"bounds":"flush",
"resolve":{"scale":{"color":"shared"},"legend":{"color":"shared"}},
"concat":[
{"width":816,"height":454,"data":{"name":"d"},"transform":[{"filter":"datum.p=='102'"}],"layer":[
 {"mark":{"type":"area","fillOpacity":0.1,"interpolate":"monotone"},"encoding":{"x":{"field":"x","type":"quantitative","scale":{"domain":[-0.235,0.358],"nice":false,"zero":false},"axis":{"values":[-0.2,-0.1,0,0.1,0.2,0.3],"labels":false,"ticks":false,"title":null,"gridWidth":{"condition":{"test":"abs(round(datum.value*10))%2==1","value":3.6},"value":7.3}}},"y":{"field":"y","type":"quantitative","scale":{"domain":[-4.42,125.78],"nice":false,"zero":false},"axis":{"values":[0,12.5,25,37.5,50,62.5,75,87.5],"labelExpr":"datum.value%25!=0?'':datum.label","tickOpacity":{"condition":{"test":"datum.value%25!=0","value":0},"value":1},"title":null,"gridWidth":{"condition":{"test":"datum.value%25!=0","value":3.6},"value":7.3}}},"color":{"field":"m","type":"nominal","title":"Mode","scale":{"domain":["Auto","Non−Motorized","Transit"],"range":["#F8766D","#00BA38","#619CFF"]},"legend":{"orient":"none","direction":"vertical","legendX":3503,"legendY":555,"encode":{"symbols":{"update":{"fill":{"scale":"color","field":"value"},"fillOpacity":{"value":0.1},"stroke":{"scale":"color","field":"value"},"opacity":{"value":1},"strokeJoin":{"value":"bevel"}}}}}}}},
 {"mark":{"type":"line","strokeWidth":8,"interpolate":"monotone"},"encoding":{"x":{"field":"x","type":"quantitative"},"y":{"field":"y","type":"quantitative"},"color":{"field":"m","type":"nominal"}}},
 {"data":{"values":[{"t":"low vol. − Origin: 102"}]},"mark":{"type":"rect","fill":"#D9D9D9","stroke":"#333333","strokeWidth":5},"encoding":{"x":{"datum":-0.235},"x2":{"datum":0.358},"y":{"datum":92.8},"y2":{"datum":125.78}}},
 {"data":{"values":[{"t":"low vol. − Origin: 102"}]},"mark":{"type":"rule","color":"#333333","strokeWidth":8},"encoding":{"y":{"datum":92.8}}},
 {"data":{"values":[{"t":"low vol. − Origin: 102"}]},"mark":{"type":"text","fontSize":60,"color":"#1A1A1A","baseline":"middle"},"encoding":{"x":{"datum":0.0615},"y":{"datum":109.3},"text":{"field":"t"}}}
]},
{"width":816,"height":454,"data":{"name":"d"},"transform":[{"filter":"datum.p=='202'"}],"layer":[
 {"mark":{"type":"area","fillOpacity":0.1,"interpolate":"monotone"},"encoding":{"x":{"field":"x","type":"quantitative","scale":{"domain":[-0.235,0.358],"nice":false,"zero":false},"axis":{"values":[-0.2,-0.1,0,0.1,0.2,0.3],"labels":false,"ticks":false,"title":null,"gridWidth":{"condition":{"test":"abs(round(datum.value*10))%2==1","value":3.6},"value":7.3}}},"y":{"field":"y","type":"quantitative","scale":{"domain":[-4.42,125.78],"nice":false,"zero":false},"axis":{"values":[0,12.5,25,37.5,50,62.5,75,87.5],"labels":false,"ticks":false,"title":null,"gridWidth":{"condition":{"test":"datum.value%25!=0","value":3.6},"value":7.3}}},"color":{"field":"m","type":"nominal","title":"Mode","scale":{"domain":["Auto","Non−Motorized","Transit"],"range":["#F8766D","#00BA38","#619CFF"]},"legend":{"orient":"none","direction":"vertical","legendX":3503,"legendY":555,"encode":{"symbols":{"update":{"fill":{"scale":"color","field":"value"},"fillOpacity":{"value":0.1},"stroke":{"scale":"color","field":"value"},"opacity":{"value":1},"strokeJoin":{"value":"bevel"}}}}}}}},
 {"mark":{"type":"line","strokeWidth":8,"interpolate":"monotone"},"encoding":{"x":{"field":"x","type":"quantitative"},"y":{"field":"y","type":"quantitative"},"color":{"field":"m","type":"nominal"}}},
 {"data":{"values":[{"t":"low vol. − Origin: 202"}]},"mark":{"type":"rect","fill":"#D9D9D9","stroke":"#333333","strokeWidth":5},"encoding":{"x":{"datum":-0.235},"x2":{"datum":0.358},"y":{"datum":92.8},"y2":{"datum":125.78}}},
 {"data":{"values":[{"t":"low vol. − Origin: 202"}]},"mark":{"type":"rule","color":"#333333","strokeWidth":8},"encoding":{"y":{"datum":92.8}}},
 {"data":{"values":[{"t":"low vol. − Origin: 202"}]},"mark":{"type":"text","fontSize":60,"color":"#1A1A1A","baseline":"middle"},"encoding":{"x":{"datum":0.0615},"y":{"datum":109.3},"text":{"field":"t"}}}
]},
{"width":816,"height":454,"data":{"name":"d"},"transform":[{"filter":"datum.p=='37'"}],"layer":[
 {"mark":{"type":"area","fillOpacity":0.1,"interpolate":"monotone"},"encoding":{"x":{"field":"x","type":"quantitative","scale":{"domain":[-0.235,0.358],"nice":false,"zero":false},"axis":{"values":[-0.2,-0.1,0,0.1,0.2,0.3],"labels":false,"ticks":false,"title":null,"gridWidth":{"condition":{"test":"abs(round(datum.value*10))%2==1","value":3.6},"value":7.3}}},"y":{"field":"y","type":"quantitative","scale":{"domain":[-4.42,125.78],"nice":false,"zero":false},"axis":{"values":[0,12.5,25,37.5,50,62.5,75,87.5],"labels":false,"ticks":false,"title":null,"gridWidth":{"condition":{"test":"datum.value%25!=0","value":3.6},"value":7.3}}},"color":{"field":"m","type":"nominal","title":"Mode","scale":{"domain":["Auto","Non−Motorized","Transit"],"range":["#F8766D","#00BA38","#619CFF"]},"legend":{"orient":"none","direction":"vertical","legendX":3503,"legendY":555,"encode":{"symbols":{"update":{"fill":{"scale":"color","field":"value"},"fillOpacity":{"value":0.1},"stroke":{"scale":"color","field":"value"},"opacity":{"value":1},"strokeJoin":{"value":"bevel"}}}}}}}},
 {"mark":{"type":"line","strokeWidth":8,"interpolate":"monotone"},"encoding":{"x":{"field":"x","type":"quantitative"},"y":{"field":"y","type":"quantitative"},"color":{"field":"m","type":"nominal"}}},
 {"data":{"values":[{"t":"low vol. − Origin: 37"}]},"mark":{"type":"rect","fill":"#D9D9D9","stroke":"#333333","strokeWidth":5},"encoding":{"x":{"datum":-0.235},"x2":{"datum":0.358},"y":{"datum":92.8},"y2":{"datum":125.78}}},
 {"data":{"values":[{"t":"low vol. − Origin: 37"}]},"mark":{"type":"rule","color":"#333333","strokeWidth":8},"encoding":{"y":{"datum":92.8}}},
 {"data":{"values":[{"t":"low vol. − Origin: 37"}]},"mark":{"type":"text","fontSize":60,"color":"#1A1A1A","baseline":"middle"},"encoding":{"x":{"datum":0.0615},"y":{"datum":109.3},"text":{"field":"t"}}}
]},
{"width":816,"height":454,"data":{"name":"d"},"transform":[{"filter":"datum.p=='93'"}],"layer":[
 {"mark":{"type":"area","fillOpacity":0.1,"interpolate":"monotone"},"encoding":{"x":{"field":"x","type":"quantitative","scale":{"domain":[-0.235,0.358],"nice":false,"zero":false},"axis":{"values":[-0.2,-0.1,0,0.1,0.2,0.3],"labels":false,"ticks":false,"title":null,"gridWidth":{"condition":{"test":"abs(round(datum.value*10))%2==1","value":3.6},"value":7.3}}},"y":{"field":"y","type":"quantitative","scale":{"domain":[-4.42,125.78],"nice":false,"zero":false},"axis":{"values":[0,12.5,25,37.5,50,62.5,75,87.5],"labels":false,"ticks":false,"title":null,"gridWidth":{"condition":{"test":"datum.value%25!=0","value":3.6},"value":7.3}}},"color":{"field":"m","type":"nominal","title":"Mode","scale":{"domain":["Auto","Non−Motorized","Transit"],"range":["#F8766D","#00BA38","#619CFF"]},"legend":{"orient":"none","direction":"vertical","legendX":3503,"legendY":555,"encode":{"symbols":{"update":{"fill":{"scale":"color","field":"value"},"fillOpacity":{"value":0.1},"stroke":{"scale":"color","field":"value"},"opacity":{"value":1},"strokeJoin":{"value":"bevel"}}}}}}}},
 {"mark":{"type":"line","strokeWidth":8,"interpolate":"monotone"},"encoding":{"x":{"field":"x","type":"quantitative"},"y":{"field":"y","type":"quantitative"},"color":{"field":"m","type":"nominal"}}},
 {"data":{"values":[{"t":"low vol. − Origin: 93"}]},"mark":{"type":"rect","fill":"#D9D9D9","stroke":"#333333","strokeWidth":5},"encoding":{"x":{"datum":-0.235},"x2":{"datum":0.358},"y":{"datum":92.8},"y2":{"datum":125.78}}},
 {"data":{"values":[{"t":"low vol. − Origin: 93"}]},"mark":{"type":"rule","color":"#333333","strokeWidth":8},"encoding":{"y":{"datum":92.8}}},
 {"data":{"values":[{"t":"low vol. − Origin: 93"}]},"mark":{"type":"text","fontSize":60,"color":"#1A1A1A","baseline":"middle"},"encoding":{"x":{"datum":0.0615},"y":{"datum":109.3},"text":{"field":"t"}}}
]},
{"width":816,"height":454,"data":{"name":"d"},"transform":[{"filter":"datum.p=='114'"}],"layer":[
 {"mark":{"type":"area","fillOpacity":0.1,"interpolate":"monotone"},"encoding":{"x":{"field":"x","type":"quantitative","scale":{"domain":[-0.235,0.358],"nice":false,"zero":false},"axis":{"values":[-0.2,-0.1,0,0.1,0.2,0.3],"labels":false,"ticks":false,"title":null,"gridWidth":{"condition":{"test":"abs(round(datum.value*10))%2==1","value":3.6},"value":7.3}}},"y":{"field":"y","type":"quantitative","scale":{"domain":[-4.42,125.78],"nice":false,"zero":false},"axis":{"values":[0,12.5,25,37.5,50,62.5,75,87.5],"labelExpr":"datum.value%25!=0?'':datum.label","tickOpacity":{"condition":{"test":"datum.value%25!=0","value":0},"value":1},"title":"Density","titleY":284.5,"gridWidth":{"condition":{"test":"datum.value%25!=0","value":3.6},"value":7.3}}},"color":{"field":"m","type":"nominal","title":"Mode","scale":{"domain":["Auto","Non−Motorized","Transit"],"range":["#F8766D","#00BA38","#619CFF"]},"legend":{"orient":"none","direction":"vertical","legendX":3503,"legendY":555,"encode":{"symbols":{"update":{"fill":{"scale":"color","field":"value"},"fillOpacity":{"value":0.1},"stroke":{"scale":"color","field":"value"},"opacity":{"value":1},"strokeJoin":{"value":"bevel"}}}}}}}},
 {"mark":{"type":"line","strokeWidth":8,"interpolate":"monotone"},"encoding":{"x":{"field":"x","type":"quantitative"},"y":{"field":"y","type":"quantitative"},"color":{"field":"m","type":"nominal"}}},
 {"data":{"values":[{"t":"mid vol. − Origin: 114"}]},"mark":{"type":"rect","fill":"#D9D9D9","stroke":"#333333","strokeWidth":5},"encoding":{"x":{"datum":-0.235},"x2":{"datum":0.358},"y":{"datum":92.8},"y2":{"datum":125.78}}},
 {"data":{"values":[{"t":"mid vol. − Origin: 114"}]},"mark":{"type":"rule","color":"#333333","strokeWidth":8},"encoding":{"y":{"datum":92.8}}},
 {"data":{"values":[{"t":"mid vol. − Origin: 114"}]},"mark":{"type":"text","fontSize":60,"color":"#1A1A1A","baseline":"middle"},"encoding":{"x":{"datum":0.0615},"y":{"datum":109.3},"text":{"field":"t"}}}
]},
{"width":816,"height":454,"data":{"name":"d"},"transform":[{"filter":"datum.p=='131'"}],"layer":[
 {"mark":{"type":"area","fillOpacity":0.1,"interpolate":"monotone"},"encoding":{"x":{"field":"x","type":"quantitative","scale":{"domain":[-0.235,0.358],"nice":false,"zero":false},"axis":{"values":[-0.2,-0.1,0,0.1,0.2,0.3],"labels":false,"ticks":false,"title":null,"gridWidth":{"condition":{"test":"abs(round(datum.value*10))%2==1","value":3.6},"value":7.3}}},"y":{"field":"y","type":"quantitative","scale":{"domain":[-4.42,125.78],"nice":false,"zero":false},"axis":{"values":[0,12.5,25,37.5,50,62.5,75,87.5],"labels":false,"ticks":false,"title":null,"gridWidth":{"condition":{"test":"datum.value%25!=0","value":3.6},"value":7.3}}},"color":{"field":"m","type":"nominal","title":"Mode","scale":{"domain":["Auto","Non−Motorized","Transit"],"range":["#F8766D","#00BA38","#619CFF"]},"legend":{"orient":"none","direction":"vertical","legendX":3503,"legendY":555,"encode":{"symbols":{"update":{"fill":{"scale":"color","field":"value"},"fillOpacity":{"value":0.1},"stroke":{"scale":"color","field":"value"},"opacity":{"value":1},"strokeJoin":{"value":"bevel"}}}}}}}},
 {"mark":{"type":"line","strokeWidth":8,"interpolate":"monotone"},"encoding":{"x":{"field":"x","type":"quantitative"},"y":{"field":"y","type":"quantitative"},"color":{"field":"m","type":"nominal"}}},
 {"data":{"values":[{"t":"mid vol. − Origin: 131"}]},"mark":{"type":"rect","fill":"#D9D9D9","stroke":"#333333","strokeWidth":5},"encoding":{"x":{"datum":-0.235},"x2":{"datum":0.358},"y":{"datum":92.8},"y2":{"datum":125.78}}},
 {"data":{"values":[{"t":"mid vol. − Origin: 131"}]},"mark":{"type":"rule","color":"#333333","strokeWidth":8},"encoding":{"y":{"datum":92.8}}},
 {"data":{"values":[{"t":"mid vol. − Origin: 131"}]},"mark":{"type":"text","fontSize":60,"color":"#1A1A1A","baseline":"middle"},"encoding":{"x":{"datum":0.0615},"y":{"datum":109.3},"text":{"field":"t"}}}
]},
{"width":816,"height":454,"data":{"name":"d"},"transform":[{"filter":"datum.p=='146'"}],"layer":[
 {"mark":{"type":"area","fillOpacity":0.1,"interpolate":"monotone"},"encoding":{"x":{"field":"x","type":"quantitative","scale":{"domain":[-0.235,0.358],"nice":false,"zero":false},"axis":{"values":[-0.2,-0.1,0,0.1,0.2,0.3],"labels":false,"ticks":false,"title":null,"gridWidth":{"condition":{"test":"abs(round(datum.value*10))%2==1","value":3.6},"value":7.3}}},"y":{"field":"y","type":"quantitative","scale":{"domain":[-4.42,125.78],"nice":false,"zero":false},"axis":{"values":[0,12.5,25,37.5,50,62.5,75,87.5],"labels":false,"ticks":false,"title":null,"gridWidth":{"condition":{"test":"datum.value%25!=0","value":3.6},"value":7.3}}},"color":{"field":"m","type":"nominal","title":"Mode","scale":{"domain":["Auto","Non−Motorized","Transit"],"range":["#F8766D","#00BA38","#619CFF"]},"legend":{"orient":"none","direction":"vertical","legendX":3503,"legendY":555,"encode":{"symbols":{"update":{"fill":{"scale":"color","field":"value"},"fillOpacity":{"value":0.1},"stroke":{"scale":"color","field":"value"},"opacity":{"value":1},"strokeJoin":{"value":"bevel"}}}}}}}},
 {"mark":{"type":"line","strokeWidth":8,"interpolate":"monotone"},"encoding":{"x":{"field":"x","type":"quantitative"},"y":{"field":"y","type":"quantitative"},"color":{"field":"m","type":"nominal"}}},
 {"data":{"values":[{"t":"mid vol. − Origin: 146"}]},"mark":{"type":"rect","fill":"#D9D9D9","stroke":"#333333","strokeWidth":5},"encoding":{"x":{"datum":-0.235},"x2":{"datum":0.358},"y":{"datum":92.8},"y2":{"datum":125.78}}},
 {"data":{"values":[{"t":"mid vol. − Origin: 146"}]},"mark":{"type":"rule","color":"#333333","strokeWidth":8},"encoding":{"y":{"datum":92.8}}},
 {"data":{"values":[{"t":"mid vol. − Origin: 146"}]},"mark":{"type":"text","fontSize":60,"color":"#1A1A1A","baseline":"middle"},"encoding":{"x":{"datum":0.0615},"y":{"datum":109.3},"text":{"field":"t"}}}
]},
{"width":816,"height":454,"data":{"name":"d"},"transform":[{"filter":"datum.p=='173'"}],"layer":[
 {"mark":{"type":"area","fillOpacity":0.1,"interpolate":"monotone"},"encoding":{"x":{"field":"x","type":"quantitative","scale":{"domain":[-0.235,0.358],"nice":false,"zero":false},"axis":{"values":[-0.2,-0.1,0,0.1,0.2,0.3],"labels":false,"ticks":false,"title":null,"gridWidth":{"condition":{"test":"abs(round(datum.value*10))%2==1","value":3.6},"value":7.3}}},"y":{"field":"y","type":"quantitative","scale":{"domain":[-4.42,125.78],"nice":false,"zero":false},"axis":{"values":[0,12.5,25,37.5,50,62.5,75,87.5],"labels":false,"ticks":false,"title":null,"gridWidth":{"condition":{"test":"datum.value%25!=0","value":3.6},"value":7.3}}},"color":{"field":"m","type":"nominal","title":"Mode","scale":{"domain":["Auto","Non−Motorized","Transit"],"range":["#F8766D","#00BA38","#619CFF"]},"legend":{"orient":"none","direction":"vertical","legendX":3503,"legendY":555,"encode":{"symbols":{"update":{"fill":{"scale":"color","field":"value"},"fillOpacity":{"value":0.1},"stroke":{"scale":"color","field":"value"},"opacity":{"value":1},"strokeJoin":{"value":"bevel"}}}}}}}},
 {"mark":{"type":"line","strokeWidth":8,"interpolate":"monotone"},"encoding":{"x":{"field":"x","type":"quantitative"},"y":{"field":"y","type":"quantitative"},"color":{"field":"m","type":"nominal"}}},
 {"data":{"values":[{"t":"mid vol. − Origin: 173"}]},"mark":{"type":"rect","fill":"#D9D9D9","stroke":"#333333","strokeWidth":5},"encoding":{"x":{"datum":-0.235},"x2":{"datum":0.358},"y":{"datum":92.8},"y2":{"datum":125.78}}},
 {"data":{"values":[{"t":"mid vol. − Origin: 173"}]},"mark":{"type":"rule","color":"#333333","strokeWidth":8},"encoding":{"y":{"datum":92.8}}},
 {"data":{"values":[{"t":"mid vol. − Origin: 173"}]},"mark":{"type":"text","fontSize":60,"color":"#1A1A1A","baseline":"middle"},"encoding":{"x":{"datum":0.0615},"y":{"datum":109.3},"text":{"field":"t"}}}
]},
{"width":816,"height":454,"data":{"name":"d"},"transform":[{"filter":"datum.p=='116'"}],"layer":[
 {"mark":{"type":"area","fillOpacity":0.1,"interpolate":"monotone"},"encoding":{"x":{"field":"x","type":"quantitative","scale":{"domain":[-0.235,0.358],"nice":false,"zero":false},"axis":{"values":[-0.2,-0.1,0,0.1,0.2,0.3],"format":".1f","labelExpr":"abs(round(datum.value*10))%2==1?'':datum.label","tickOpacity":{"condition":{"test":"abs(round(datum.value*10))%2==1","value":0},"value":1},"title":null,"gridWidth":{"condition":{"test":"abs(round(datum.value*10))%2==1","value":3.6},"value":7.3}}},"y":{"field":"y","type":"quantitative","scale":{"domain":[-4.42,125.78],"nice":false,"zero":false},"axis":{"values":[0,12.5,25,37.5,50,62.5,75,87.5],"labelExpr":"datum.value%25!=0?'':datum.label","tickOpacity":{"condition":{"test":"datum.value%25!=0","value":0},"value":1},"title":null,"gridWidth":{"condition":{"test":"datum.value%25!=0","value":3.6},"value":7.3}}},"color":{"field":"m","type":"nominal","title":"Mode","scale":{"domain":["Auto","Non−Motorized","Transit"],"range":["#F8766D","#00BA38","#619CFF"]},"legend":{"orient":"none","direction":"vertical","legendX":3503,"legendY":555,"encode":{"symbols":{"update":{"fill":{"scale":"color","field":"value"},"fillOpacity":{"value":0.1},"stroke":{"scale":"color","field":"value"},"opacity":{"value":1},"strokeJoin":{"value":"bevel"}}}}}}}},
 {"mark":{"type":"line","strokeWidth":8,"interpolate":"monotone"},"encoding":{"x":{"field":"x","type":"quantitative"},"y":{"field":"y","type":"quantitative"},"color":{"field":"m","type":"nominal"}}},
 {"data":{"values":[{"t":"top vol. − Origin: 116"}]},"mark":{"type":"rect","fill":"#D9D9D9","stroke":"#333333","strokeWidth":5},"encoding":{"x":{"datum":-0.235},"x2":{"datum":0.358},"y":{"datum":92.8},"y2":{"datum":125.78}}},
 {"data":{"values":[{"t":"top vol. − Origin: 116"}]},"mark":{"type":"rule","color":"#333333","strokeWidth":8},"encoding":{"y":{"datum":92.8}}},
 {"data":{"values":[{"t":"top vol. − Origin: 116"}]},"mark":{"type":"text","fontSize":60,"color":"#1A1A1A","baseline":"middle"},"encoding":{"x":{"datum":0.0615},"y":{"datum":109.3},"text":{"field":"t"}}}
]},
{"width":816,"height":454,"data":{"name":"d"},"transform":[{"filter":"datum.p=='140'"}],"layer":[
 {"mark":{"type":"area","fillOpacity":0.1,"interpolate":"monotone"},"encoding":{"x":{"field":"x","type":"quantitative","scale":{"domain":[-0.235,0.358],"nice":false,"zero":false},"axis":{"values":[-0.2,-0.1,0,0.1,0.2,0.3],"format":".1f","labelExpr":"abs(round(datum.value*10))%2==1?'':datum.label","tickOpacity":{"condition":{"test":"abs(round(datum.value*10))%2==1","value":0},"value":1},"title":"Scaled Difference","titleX":836.5,"gridWidth":{"condition":{"test":"abs(round(datum.value*10))%2==1","value":3.6},"value":7.3}}},"y":{"field":"y","type":"quantitative","scale":{"domain":[-4.42,125.78],"nice":false,"zero":false},"axis":{"values":[0,12.5,25,37.5,50,62.5,75,87.5],"labels":false,"ticks":false,"title":null,"gridWidth":{"condition":{"test":"datum.value%25!=0","value":3.6},"value":7.3}}},"color":{"field":"m","type":"nominal","title":"Mode","scale":{"domain":["Auto","Non−Motorized","Transit"],"range":["#F8766D","#00BA38","#619CFF"]},"legend":{"orient":"none","direction":"vertical","legendX":3503,"legendY":555,"encode":{"symbols":{"update":{"fill":{"scale":"color","field":"value"},"fillOpacity":{"value":0.1},"stroke":{"scale":"color","field":"value"},"opacity":{"value":1},"strokeJoin":{"value":"bevel"}}}}}}}},
 {"mark":{"type":"line","strokeWidth":8,"interpolate":"monotone"},"encoding":{"x":{"field":"x","type":"quantitative"},"y":{"field":"y","type":"quantitative"},"color":{"field":"m","type":"nominal"}}},
 {"data":{"values":[{"t":"top vol. − Origin: 140"}]},"mark":{"type":"rect","fill":"#D9D9D9","stroke":"#333333","strokeWidth":5},"encoding":{"x":{"datum":-0.235},"x2":{"datum":0.358},"y":{"datum":92.8},"y2":{"datum":125.78}}},
 {"data":{"values":[{"t":"top vol. − Origin: 140"}]},"mark":{"type":"rule","color":"#333333","strokeWidth":8},"encoding":{"y":{"datum":92.8}}},
 {"data":{"values":[{"t":"top vol. − Origin: 140"}]},"mark":{"type":"text","fontSize":60,"color":"#1A1A1A","baseline":"middle"},"encoding":{"x":{"datum":0.0615},"y":{"datum":109.3},"text":{"field":"t"}}}
]},
{"width":816,"height":454,"data":{"name":"d"},"transform":[{"filter":"datum.p=='181'"}],"layer":[
 {"mark":{"type":"area","fillOpacity":0.1,"interpolate":"monotone"},"encoding":{"x":{"field":"x","type":"quantitative","scale":{"domain":[-0.235,0.358],"nice":false,"zero":false},"axis":{"values":[-0.2,-0.1,0,0.1,0.2,0.3],"format":".1f","labelExpr":"abs(round(datum.value*10))%2==1?'':datum.label","tickOpacity":{"condition":{"test":"abs(round(datum.value*10))%2==1","value":0},"value":1},"title":null,"gridWidth":{"condition":{"test":"abs(round(datum.value*10))%2==1","value":3.6},"value":7.3}}},"y":{"field":"y","type":"quantitative","scale":{"domain":[-4.42,125.78],"nice":false,"zero":false},"axis":{"values":[0,12.5,25,37.5,50,62.5,75,87.5],"labels":false,"ticks":false,"title":null,"gridWidth":{"condition":{"test":"datum.value%25!=0","value":3.6},"value":7.3}}},"color":{"field":"m","type":"nominal","title":"Mode","scale":{"domain":["Auto","Non−Motorized","Transit"],"range":["#F8766D","#00BA38","#619CFF"]},"legend":{"orient":"none","direction":"vertical","legendX":3503,"legendY":555,"encode":{"symbols":{"update":{"fill":{"scale":"color","field":"value"},"fillOpacity":{"value":0.1},"stroke":{"scale":"color","field":"value"},"opacity":{"value":1},"strokeJoin":{"value":"bevel"}}}}}}}},
 {"mark":{"type":"line","strokeWidth":8,"interpolate":"monotone"},"encoding":{"x":{"field":"x","type":"quantitative"},"y":{"field":"y","type":"quantitative"},"color":{"field":"m","type":"nominal"}}},
 {"data":{"values":[{"t":"top vol. − Origin: 181"}]},"mark":{"type":"rect","fill":"#D9D9D9","stroke":"#333333","strokeWidth":5},"encoding":{"x":{"datum":-0.235},"x2":{"datum":0.358},"y":{"datum":92.8},"y2":{"datum":125.78}}},
 {"data":{"values":[{"t":"top vol. − Origin: 181"}]},"mark":{"type":"rule","color":"#333333","strokeWidth":8},"encoding":{"y":{"datum":92.8}}},
 {"data":{"values":[{"t":"top vol. − Origin: 181"}]},"mark":{"type":"text","fontSize":60,"color":"#1A1A1A","baseline":"middle"},"encoding":{"x":{"datum":0.0615},"y":{"datum":109.3},"text":{"field":"t"}}}
]},
{"width":816,"height":454,"data":{"name":"d"},"transform":[{"filter":"datum.p=='182'"}],"layer":[
 {"mark":{"type":"area","fillOpacity":0.1,"interpolate":"monotone"},"encoding":{"x":{"field":"x","type":"quantitative","scale":{"domain":[-0.235,0.358],"nice":false,"zero":false},"axis":{"values":[-0.2,-0.1,0,0.1,0.2,0.3],"format":".1f","labelExpr":"abs(round(datum.value*10))%2==1?'':datum.label","tickOpacity":{"condition":{"test":"abs(round(datum.value*10))%2==1","value":0},"value":1},"title":null,"gridWidth":{"condition":{"test":"abs(round(datum.value*10))%2==1","value":3.6},"value":7.3}}},"y":{"field":"y","type":"quantitative","scale":{"domain":[-4.42,125.78],"nice":false,"zero":false},"axis":{"values":[0,12.5,25,37.5,50,62.5,75,87.5],"labels":false,"ticks":false,"title":null,"gridWidth":{"condition":{"test":"datum.value%25!=0","value":3.6},"value":7.3}}},"color":{"field":"m","type":"nominal","title":"Mode","scale":{"domain":["Auto","Non−Motorized","Transit"],"range":["#F8766D","#00BA38","#619CFF"]},"legend":{"orient":"none","direction":"vertical","legendX":3503,"legendY":555,"encode":{"symbols":{"update":{"fill":{"scale":"color","field":"value"},"fillOpacity":{"value":0.1},"stroke":{"scale":"color","field":"value"},"opacity":{"value":1},"strokeJoin":{"value":"bevel"}}}}}}}},
 {"mark":{"type":"line","strokeWidth":8,"interpolate":"monotone"},"encoding":{"x":{"field":"x","type":"quantitative"},"y":{"field":"y","type":"quantitative"},"color":{"field":"m","type":"nominal"}}},
 {"data":{"values":[{"t":"top vol. − Origin: 182"}]},"mark":{"type":"rect","fill":"#D9D9D9","stroke":"#333333","strokeWidth":5},"encoding":{"x":{"datum":-0.235},"x2":{"datum":0.358},"y":{"datum":92.8},"y2":{"datum":125.78}}},
 {"data":{"values":[{"t":"top vol. − Origin: 182"}]},"mark":{"type":"rule","color":"#333333","strokeWidth":8},"encoding":{"y":{"datum":92.8}}},
 {"data":{"values":[{"t":"top vol. − Origin: 182"}]},"mark":{"type":"text","fontSize":60,"color":"#1A1A1A","baseline":"middle"},"encoding":{"x":{"datum":0.0615},"y":{"datum":109.3},"text":{"field":"t"}}}
]}
],
"config":{
 "font":"Liberation Sans",
 "view":{"stroke":"#333333","strokeWidth":5},
 "axis":{"domain":false,"grid":true,"gridColor":"#EBEBEB","tickColor":"#333333","tickSize":19,"tickWidth":7,"labelFont":"Liberation Sans","labelFontSize":60,"labelColor":"#4D4D4D","titleFont":"Liberation Sans","titleFontSize":75,"titleFontWeight":"normal","titleColor":"#000000","labelOverlap":false,"labelFlush":false,"labelBound":false,"labelLimit":1000},
 "axisX":{"labelPadding":14,"titlePadding":16},
 "axisY":{"labelPadding":23,"titlePadding":17},
 "legend":{"padding":0,"titleFont":"Liberation Sans","titleFontSize":73,"titleFontWeight":"normal","titleColor":"#000000","titlePadding":33,"titleLimit":1000,"labelFont":"Liberation Sans","labelFontSize":60,"labelColor":"#000000","labelLimit":1000,"labelOffset":38,"rowPadding":-6,"symbolType":"square","symbolSize":11449,"symbolStrokeWidth":7.7}
}
}
